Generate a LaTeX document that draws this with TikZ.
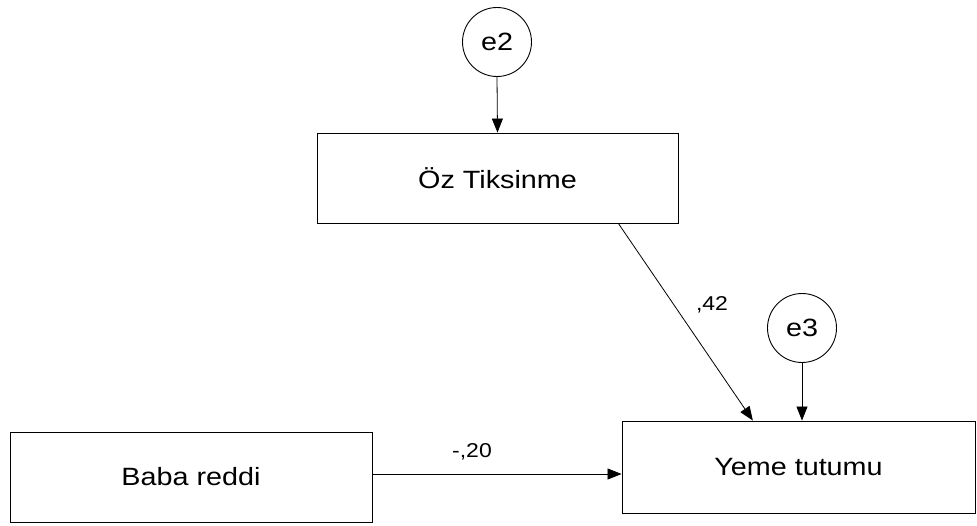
\documentclass[tikz,border=0pt]{standalone}
\usepackage{fontspec}
\setmainfont[FakeStretch=1.15]{Liberation Sans}
\usetikzlibrary{arrows.meta,calc}
\begin{document}
\begin{tikzpicture}[x=1pt,y=1pt,
  box/.style={draw, line width=0.9pt, minimum width=361pt, minimum height=90pt, inner sep=0pt, font=\fontsize{25}{30}\selectfont},
  err/.style={draw, circle, line width=0.9pt, minimum size=69pt, inner sep=0pt, font=\fontsize{25}{30}\selectfont},
  path/.style={line width=0.8pt, -{Triangle[length=14pt,width=11pt]}},
  lab/.style={font=\fontsize{20}{24}\selectfont, inner sep=0pt}]
\useasboundingbox (0,0) rectangle (977,525);
\node[err] (e2) at (497,483) {e2};
\node[box] (oz) at (497.5,347) {Öz Tiksinme};
\node[err] (e3) at (802,197) {e3};
\node[box, minimum width=353pt, minimum height=92pt] (yeme) at (798.5,58) {Yeme tutumu};
\node[box, minimum width=362pt] (baba) at (191,48) {Baba reddi};
\coordinate (ozout) at ($(oz.south west)!0.834!(oz.south east)$);
\coordinate (yemein) at ($(yeme.north west)!0.371!(yeme.north east)$);
\coordinate (babaout) at ([yshift=3pt]baba.east);
\draw[path] (e2.south) -- (oz.north);
\draw[path] (ozout) -- (yemein);
\draw[path] (e3.south) -- (e3.south |- yeme.north);
\draw[path] (babaout) -- (babaout -| yeme.west);
\node[lab] (l42) at (712,220) {,42};
\node[lab] (l20) at (472,73) {-,20};
\end{tikzpicture}
\end{document}
